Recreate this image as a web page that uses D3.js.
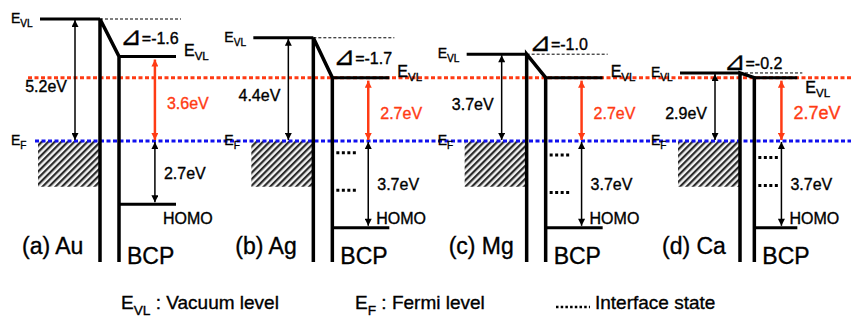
<!DOCTYPE html>
<html>
<head>
<meta charset="utf-8">
<script src="https://cdn.jsdelivr.net/npm/d3@7/dist/d3.min.js"></script>
<style>
  body { margin: 0; background: #fff; }
  text { font-family: Arial, "Liberation Sans", "DejaVu Sans", sans-serif; stroke: #000; stroke-width: 0.35px; }
  text.red { fill: #ff3b14; stroke: #ff3b14; }
</style>
</head>
<body>
<svg id="chart" width="851" height="320"></svg>
<script>
// energies in eV, relative to the Fermi level
const metals = ["Au", "Ag", "Mg", "Ca"];
const panelTags = ["(a)", "(b)", "(c)", "(d)"];
const workFunction = [5.2, 4.4, 3.7, 2.9];
const deltaShift = [-1.6, -1.7, -1.0, -0.2];
const electronBarrier = [3.6, 2.7, 2.7, 2.7];
const holeBarrier = [2.7, 3.7, 3.7, 3.7];
const interfaceStates = [[], [-0.5, -2.1], [-0.6, -2.2], [-0.7, -1.9]];
const redLevel = 2.7;
const metalBandBottom = -1.95;

const W = 851, H = 320;
const RED = "#ff3b14", BLUE = "#1010f0";

const svg = d3.select("#chart");

const y = d3.scaleLinear().domain([0, 5.2]).range([141, 19]);
const x = d3.scalePoint().domain(metals).range([100, 740]);
const bottomY = 262;

const defs = svg.append("defs");

const hatch = defs.append("pattern")
    .attr("id", "hatch")
    .attr("patternUnits", "userSpaceOnUse")
    .attr("width", 4.6).attr("height", 4.6)
    .attr("patternTransform", "rotate(45)");
hatch.append("rect").attr("width", 4.6).attr("height", 4.6).attr("fill", "#f2f2f2");
hatch.append("line")
    .attr("x1", 0).attr("y1", 0).attr("x2", 0).attr("y2", 4.6)
    .attr("stroke", "#2a2a2a").attr("stroke-width", 4.4);

function marker(id, color) {
    defs.append("marker")
        .attr("id", id)
        .attr("markerUnits", "userSpaceOnUse")
        .attr("viewBox", "0 0 10 10")
        .attr("refX", 10).attr("refY", 5)
        .attr("markerWidth", 8).attr("markerHeight", 7)
        .attr("orient", "auto-start-reverse")
        .append("path")
        .attr("d", "M0,0 L10,5 L0,10 Z")
        .attr("fill", color);
}
marker("arrowK", "#000");
marker("arrowR", RED);

function levelLabel(g, xPos, yPos, main, sub, size, anchor) {
    const t = g.append("text")
        .attr("x", xPos).attr("y", yPos)
        .attr("font-size", size)
        .attr("text-anchor", anchor || "start");
    t.append("tspan").text(main);
    t.append("tspan").attr("dy", size * 0.3).attr("font-size", size * 0.72).text(sub);
    return t;
}

function arrow(g, xPos, y1, y2, color, id, width) {
    g.append("line")
        .attr("x1", xPos).attr("x2", xPos)
        .attr("y1", y1).attr("y2", y2)
        .attr("stroke", color).attr("stroke-width", width)
        .attr("marker-start", `url(#${id})`)
        .attr("marker-end", `url(#${id})`);
}

// hatched metal bands go under everything
metals.forEach((m, i) => {
    const x0 = x(m);
    svg.append("rect")
        .attr("x", x0 - 62).attr("y", y(0))
        .attr("width", 62).attr("height", y(metalBandBottom) - y(0))
        .attr("fill", "url(#hatch)");
});

// reference dotted lines
svg.append("line")
    .attr("x1", 28).attr("x2", W).attr("y1", y(redLevel)).attr("y2", y(redLevel))
    .attr("stroke", RED).attr("stroke-width", 3).attr("stroke-dasharray", "4,2.5");
svg.append("line")
    .attr("x1", 35).attr("x2", W).attr("y1", y(0)).attr("y2", y(0))
    .attr("stroke", BLUE).attr("stroke-width", 3).attr("stroke-dasharray", "4,2.5");

metals.forEach((m, i) => {
    const g = svg.append("g").attr("class", "panel");
    const x0 = x(m);
    const span = Math.min(57, W - x0 - 68);
    const bcpX = x0 + span / 3;
    const levelEnd = bcpX + span;
    const arrowX = bcpX + span * 0.63;
    const metalY = y(workFunction[i]);
    const bcpY = y(workFunction[i] + deltaShift[i]);
    const homoY = y(-holeBarrier[i]);
    const gap = bcpY - metalY;

    // metal vacuum level and contact
    g.append("line")
        .attr("x1", x0 - 60).attr("x2", x0).attr("y1", metalY).attr("y2", metalY)
        .attr("stroke", "#000").attr("stroke-width", 3);
    g.append("line")
        .attr("x1", x0).attr("x2", levelEnd + 5).attr("y1", metalY).attr("y2", metalY)
        .attr("stroke", "#000").attr("stroke-width", 1).attr("stroke-dasharray", "3,2");
    g.append("path")
        .attr("d", `M${x0},${bottomY} L${x0},${metalY} L${bcpX},${bcpY} L${bcpX},${bottomY}`)
        .attr("fill", "none").attr("stroke", "#000").attr("stroke-width", 3.5);
    g.append("line")
        .attr("x1", bcpX).attr("x2", levelEnd).attr("y1", bcpY).attr("y2", bcpY)
        .attr("stroke", "#000").attr("stroke-width", 3);
    g.append("line")
        .attr("x1", bcpX).attr("x2", levelEnd).attr("y1", homoY).attr("y2", homoY)
        .attr("stroke", "#000").attr("stroke-width", 3);

    // interface states
    interfaceStates[i].forEach(e => {
        g.append("line")
            .attr("x1", bcpX + 4).attr("x2", bcpX + 24).attr("y1", y(e)).attr("y2", y(e))
            .attr("stroke", "#000").attr("stroke-width", 3).attr("stroke-dasharray", "3,2.5");
    });

    // arrows
    const metalArrowX = x0 - 25;
    arrow(g, metalArrowX, metalY + 1, y(0) - 1, "#000", "arrowK", 1.5);
    arrow(g, arrowX, bcpY + 3, y(0) - 1, RED, "arrowR", 2.5);
    arrow(g, arrowX, y(0) + 1, homoY - 2, "#000", "arrowK", 1.5);

    // texts
    levelLabel(g, x0 - 89, metalY + 4, "E", "VL", 14);
    levelLabel(g, x0 - 89, y(0) + 4, "E", "F", 14);
    levelLabel(g, levelEnd + 8, gap < 10 ? bcpY + 15 : bcpY - 1, "E", "VL", 16);

    g.append("text")
        .attr("x", metalArrowX - 8).attr("y", (metalY + y(0)) / 2 + 12)
        .attr("text-anchor", "end").attr("font-size", 16)
        .text(workFunction[i].toFixed(1) + "eV");
    g.append("text")
        .attr("class", "red")
        .attr("x", arrowX + 12).attr("y", (bcpY + y(0)) / 2 + 10)
        .attr("font-size", gap < 10 ? 18 : 16)
        .text(electronBarrier[i].toFixed(1) + "eV");
    g.append("text")
        .attr("x", arrowX + 9).attr("y", (y(0) + homoY) / 2 + 6)
        .attr("font-size", 16)
        .text(holeBarrier[i].toFixed(1) + "eV");
    g.append("text")
        .attr("x", arrowX + 8).attr("y", 224)
        .attr("font-size", 16)
        .text("HOMO");

    const dX = gap > 30 ? bcpX + 1 : x0 + gap - 21;
    const dY = gap > 30 ? (metalY + bcpY) / 2 + 6 : metalY - 4;
    const dt = g.append("text")
        .attr("x", dX).attr("y", dY)
        .attr("font-size", 16);
    dt.append("tspan").attr("font-size", 26).attr("dy", 1).text("\u22BF");
    dt.append("tspan").attr("dy", -1).text("=" + deltaShift[i].toFixed(1));

    g.append("text")
        .attr("x", x0 - 78).attr("y", 254)
        .attr("font-size", 23)
        .text(panelTags[i] + " " + m);
    g.append("text")
        .attr("x", bcpX + 8).attr("y", 264)
        .attr("font-size", 23)
        .text("BCP");
});

// legend
const lg = svg.append("g").attr("class", "legend");
const l1 = levelLabel(lg, 121, 309, "E", "VL", 19);
l1.append("tspan").attr("dy", -19 * 0.3).text(" : Vacuum level");
const l2 = levelLabel(lg, 355, 309, "E", "F", 19);
l2.append("tspan").attr("dy", -19 * 0.3).text("  : Fermi level");
lg.append("line")
    .attr("x1", 556).attr("x2", 590).attr("y1", 307).attr("y2", 307)
    .attr("stroke", "#000").attr("stroke-width", 2.5).attr("stroke-dasharray", "2.5,2.2");
lg.append("text").attr("x", 595).attr("y", 309).attr("font-size", 19).text("Interface state");
</script>
</body>
</html>
